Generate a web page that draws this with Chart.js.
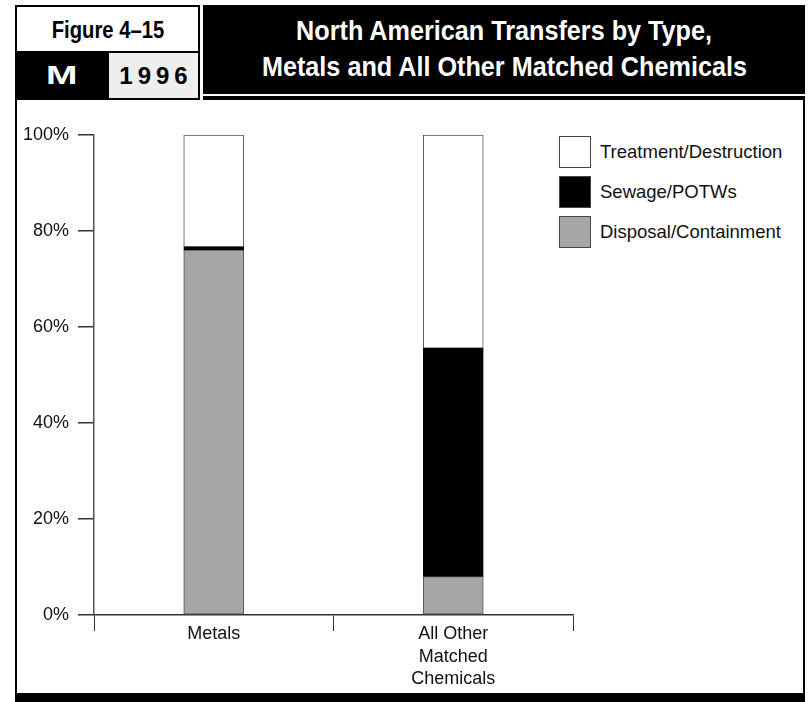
<!DOCTYPE html>
<html>
<head>
<meta charset="utf-8">
<script src="https://cdn.jsdelivr.net/npm/chart.js@4"></script>
<style>
  html, body { margin: 0; padding: 0; background: #fff; }
  body { width: 809px; height: 702px; position: relative; overflow: hidden;
         font-family: "Liberation Sans", Arial, sans-serif; }
  .abs { position: absolute; box-sizing: border-box; }
  .sq { display: inline-block; transform-origin: center; }
  #figBox { left: 15px; top: 5px; width: 185px; height: 48px; border: 2px solid #000; background: #fff;
            font-weight: bold; font-size: 23px; text-align: center; line-height: 46px; }
  #figBox .sq { transform: scaleX(0.88); }
  #mBox { left: 15px; top: 51px; width: 93px; height: 49px; background: #000; color: #fff;
          font-weight: 900; font-size: 26px; text-align: center; line-height: 49px; }
  #mBox .sq { transform: scaleX(1.45); }
  #yearBox { left: 107px; top: 51px; width: 93px; height: 49px; border: 2px solid #000; background: #eeeeee;
             font-weight: bold; font-size: 24px; letter-spacing: 5px; text-align: center;
             line-height: 45px; padding-left: 5px; }
  #titleBox { left: 203px; top: 5px; width: 602px; height: 89px; background: #000; color: #fff;
              font-weight: bold; font-size: 28px; text-align: center; line-height: 36px; padding-top: 8px; }
  #titleBox .sq { transform: scaleX(0.9); white-space: nowrap; }
  #topRule { left: 203px; top: 96px; width: 602px; height: 4px; background: #000; }
  #frame { left: 15px; top: 96px; width: 790px; height: 606px; border-left: 2px solid #000; border-right: 2px solid #000; }
  #bottomBar { left: 15px; top: 693px; width: 790px; height: 9px; background: #000; }
  .lgBox { position: absolute; width: 32px; height: 32px; box-sizing: border-box; border: 1px solid #444; }
  .lgText { position: absolute; font-size: 18.5px; color: #111; line-height: 32px; white-space: nowrap; }
  canvas { position: absolute; left: 0; top: 0; }
</style>
</head>
<body>
<div class="abs" id="frame"></div>
<div class="abs" id="figBox"><span class="sq">Figure 4–15</span></div>
<div class="abs" id="mBox"><span class="sq">M</span></div>
<div class="abs" id="yearBox">1996</div>
<div class="abs" id="titleBox"><span class="sq">North American Transfers by Type,</span><br><span class="sq">Metals and All Other Matched Chemicals</span></div>
<div class="abs" id="topRule"></div>
<div class="abs" id="bottomBar"></div>
<div id="legend"></div>
<canvas id="chart" width="809" height="702"></canvas>
<script>
const categories = ["Metals", ["All Other", "Matched", "Chemicals"]];
const seriesNames = ["Disposal/Containment", "Sewage/POTWs", "Treatment/Destruction"];
const disposal = [76.0, 8.0];
const sewage = [0.7, 47.6];
const treatment = [23.3, 44.4];
const yTicks = [0, 20, 40, 60, 80, 100];

const FONT = "'Liberation Sans', Arial, sans-serif";
const fills = ["#a6a6a6", "#000000", "#ffffff"];
const seriesValues = [disposal, sewage, treatment];

// legend, top entry = top of the stack
const legend = document.getElementById("legend");
[2, 1, 0].forEach((i, row) => {
  const box = document.createElement("div");
  box.className = "lgBox";
  box.style.left = "559px";
  box.style.top = 136 + row * 40 + "px";
  box.style.background = fills[i];
  legend.appendChild(box);
  const txt = document.createElement("div");
  txt.className = "lgText";
  txt.style.left = "600px";
  txt.style.top = 136 + row * 40 + "px";
  txt.textContent = seriesNames[i];
  legend.appendChild(txt);
});

new Chart(document.getElementById("chart").getContext("2d"), {
  type: "bar",
  data: {
    labels: categories,
    datasets: seriesNames.map((name, i) => ({
      label: name,
      data: seriesValues[i],
      backgroundColor: fills[i],
      borderColor: i === 1 ? "#000" : "#555",
      borderWidth: 1,
      borderSkipped: false,
      barThickness: 60,
    })),
  },
  options: {
    responsive: false,
    animation: false,
    devicePixelRatio: 1,
    layout: { padding: { left: 0, top: 135, right: 236, bottom: 0 } },
    plugins: { legend: { display: false }, tooltip: { enabled: false } },
    scales: {
      x: {
        stacked: true,
        afterFit: (scale) => { scale.height = 87; },
        grid: { offset: true, drawOnChartArea: false, tickLength: 16, color: "#333", lineWidth: 1 },
        border: { display: true, color: "#333", width: 1.5 },
        ticks: { color: "#111", padding: -8, font: { family: FONT, size: 18, lineHeight: 1.25 } },
      },
      y: {
        stacked: true,
        min: 0,
        max: 100,
        afterFit: (scale) => { scale.width = 94; },
        afterBuildTicks: (scale) => { scale.ticks = yTicks.map((v) => ({ value: v })); },
        grid: { drawOnChartArea: false, tickLength: 16, color: "#333", lineWidth: 1.5 },
        border: { display: true, color: "#555", width: 1.5 },
        ticks: {
          color: "#111",
          padding: 9,
          font: { family: FONT, size: 18 },
          callback: (v) => v + "%",
        },
      },
    },
  },
});
</script>
</body>
</html>
